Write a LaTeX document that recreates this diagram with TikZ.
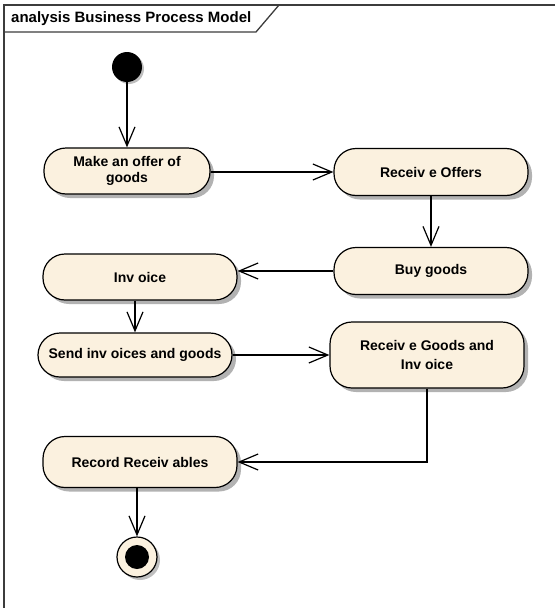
\documentclass[tikz,border=0pt]{standalone}
\usepackage{fontspec}
\setmainfont{Liberation Sans}
\usepackage{xcolor}
\usetikzlibrary{arrows.meta}
\usetikzlibrary{positioning}
\usetikzlibrary{shadows}
\definecolor{actcream}{RGB}{251,241,223}
\definecolor{framegray}{RGB}{60,60,60}

\begin{document}
\begin{tikzpicture}[x=1pt,y=-1pt]
% 1 = 1px, y runs downward
    \def\WIDTH{555}
    \def\HEIGHT{608}
    \def\FRAMEX{4}
    \def\FRAMEY{5}
    \def\TABY{32} % bottom of the title tab
    \def\TABX{256}

    \tikzset{
      action/.style={draw, line width=1.2pt, fill=actcream, rounded corners=22pt,
        minimum width=194pt, minimum height=47pt, align=center,
        font=\bfseries\fontsize{14}{16.5}\selectfont,
        drop shadow={shadow xshift=4pt, shadow yshift=-4pt,
          fill=black!30, opacity=1}},
      flow/.style={-{Straight Barb[length=19pt,width=16pt]}, line width=1.2pt},
    }

    \useasboundingbox (0,0) rectangle (\WIDTH,\HEIGHT);

    % FRAME AND TITLE TAB
    \draw[line width=1.3pt, framegray] (\WIDTH,\FRAMEY) -- (\FRAMEX,\FRAMEY)
        -- (\FRAMEX,\HEIGHT);
    \draw[line width=1.3pt, framegray] (\FRAMEX,\TABY) -- (\TABX,\TABY)
        -- (279,\FRAMEY);
    \node[anchor=west, inner sep=0pt, font=\bfseries\fontsize{15}{17}\selectfont]
        (title) at (11,18.5) {analysis Business Process Model};

    % START AND END
    \node[circle, fill=black, minimum size=30pt, inner sep=0pt,
        drop shadow={shadow xshift=2pt, shadow yshift=-2pt, fill=black!25, opacity=1}]
        (start) at (127,67) {};
    \node[circle, draw, line width=1.2pt, fill=actcream, minimum size=40pt, inner sep=0pt,
        drop shadow={shadow xshift=3pt, shadow yshift=-3pt, fill=black!25, opacity=1}]
        (final) at (137,557) {};
    \node[circle, fill=black, minimum size=24pt, inner sep=0pt] (finaldot) at (final) {};

    % ACTIONS
    \node[action, minimum width=166pt, minimum height=46pt] (offer) at (127,171)
        {Make an offer of\\goods};
    \node[action] (recvoffers) at (431,172) {Receiv e Offers};
    \node[action] (buy) at (431,271) {Buy goods};
    \node[action, minimum height=46pt] (invoice) at (140,277) {Inv oice};
    \node[action, minimum height=44pt] (send) at (135,355) {Send inv oices and goods};
    \node[action, minimum height=66pt, font=\bfseries\fontsize{14}{19}\selectfont]
        (recvgoods) at (427,355) {Receiv e Goods and\\Inv oice};
    \node[action, minimum height=51pt] (record) at (140,462) {Record Receiv ables};

    % FLOWS
    \draw[flow] (start) -- (offer);
    \draw[flow] (offer.east |- recvoffers) -- (recvoffers);
    \draw[flow] (recvoffers) -- (buy);
    \draw[flow] (buy.west) -- (buy.west -| invoice.east);
    \draw[flow] (send.north |- invoice.south) -- (send.north);
    \draw[flow] (send) -- (recvgoods);
    \draw[flow] (recvgoods) |- (record);
    \draw[flow] (record.south -| final) -- (final);

\end{tikzpicture}
\end{document}
